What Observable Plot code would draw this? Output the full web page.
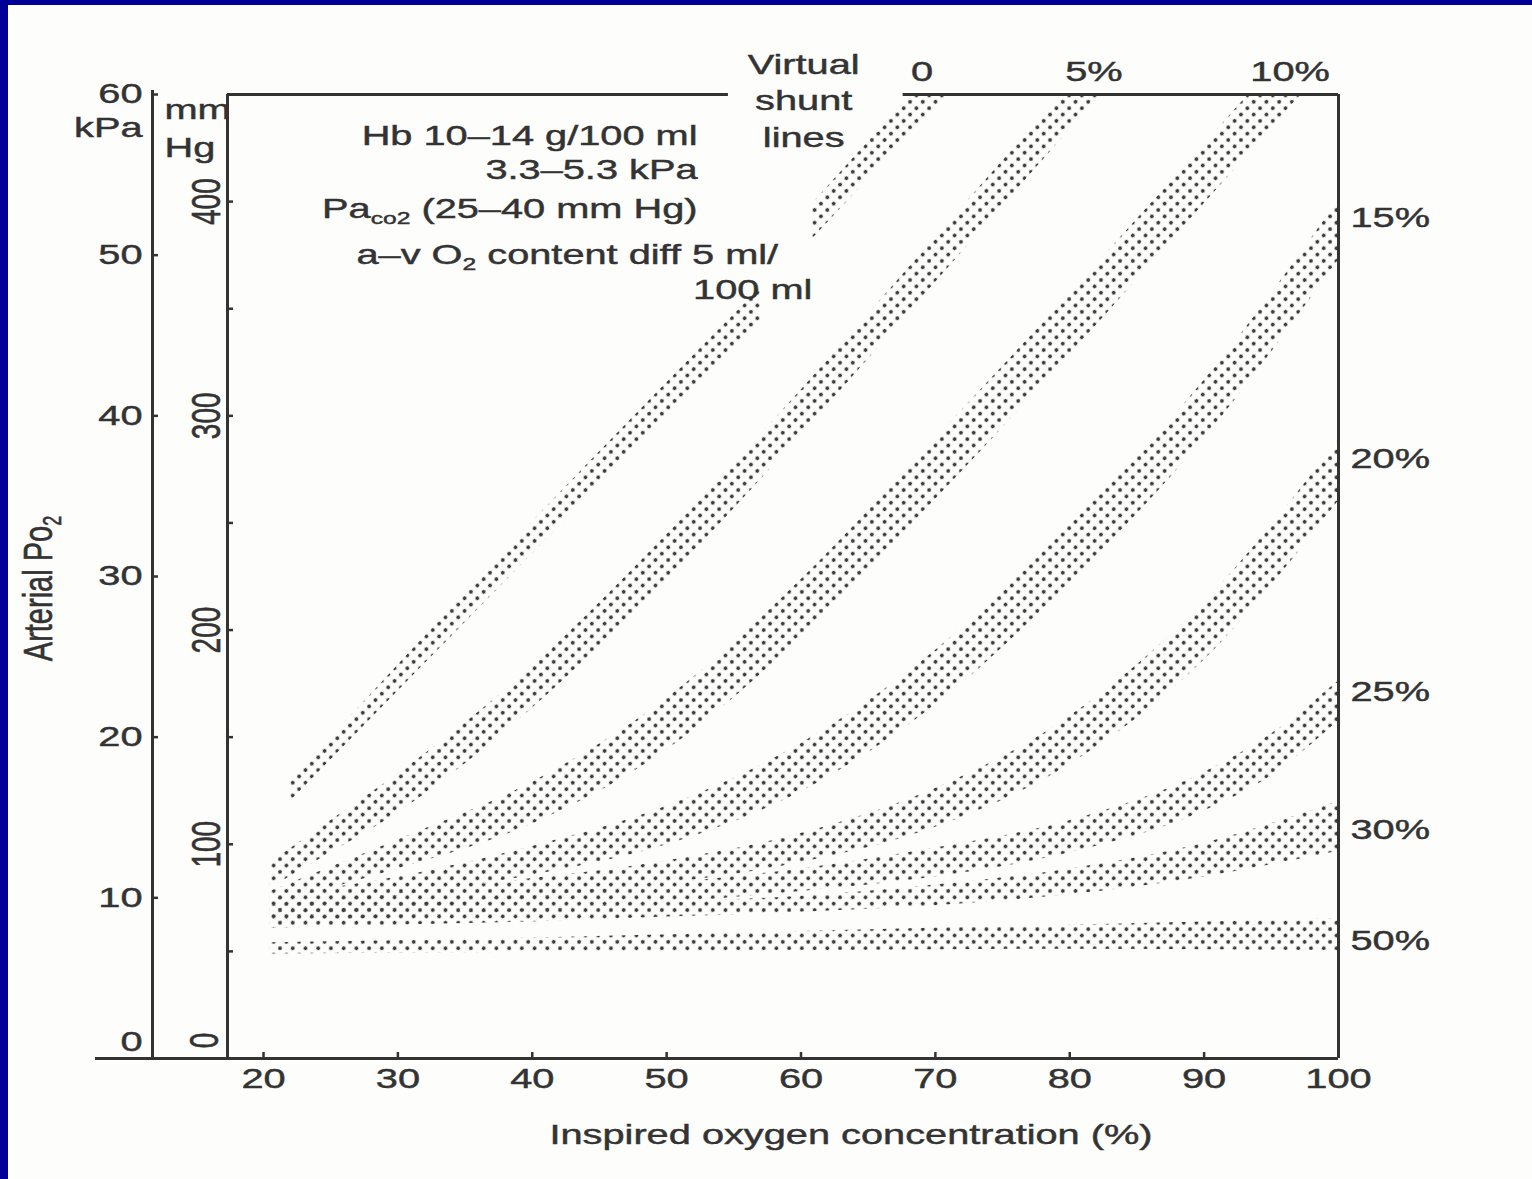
<!DOCTYPE html>
<html><head><meta charset="utf-8">
<script src="https://cdn.jsdelivr.net/npm/d3@7"></script>
<script src="https://cdn.jsdelivr.net/npm/@observablehq/plot@0.6"></script>
<style>
html,body{margin:0;padding:0;background:#fdfdfc;}
#wrap{position:relative;width:1532px;height:1179px;overflow:hidden;background:#fdfdfc;}
#wrap svg{position:absolute;left:0;top:0;}
.bar{position:absolute;background:#000099;z-index:5;}
</style></head><body>
<div id="wrap"><div class="bar" style="left:0;top:0;width:1532px;height:5px"></div><div class="bar" style="left:0;top:0;width:8px;height:1179px"></div></div>
<script>
// ---- scales / ticks ----
const xDomain = [17.32, 100];           // inspired O2 %
const yDomain = [0, 60];                // arterial PO2, kPa
const fio2Ticks = [20, 30, 40, 50, 60, 70, 80, 90, 100];
const kpaTicks = [0, 10, 20, 30, 40, 50, 60];
const mmHgTicks = [50, 100, 150, 200, 250, 300, 350, 400, 450];
const mmHgLabels = [100, 200, 300, 400];
const MMHG_PER_KPA = 7.5;

// ---- virtual shunt bands (FiO2 %, lower / upper PaO2 kPa) ----
const band0a  = {fio2: [22, 40, 57], lo: [16.0, 31.4, 45.8], hi: [17.2, 33.4, 48.0]};
const band0b  = {fio2: [60.85, 70, 75], lo: [51.0, 59.2, 63.6], hi: [53.2, 61.6, 66.0]};
const band5   = {fio2: [20.5, 25, 30, 40, 50, 60, 70, 80, 90], lo: [10.6, 12.8, 15.3, 21.8, 29.8, 38.8, 48.3, 57.8, 67.3], hi: [12.2, 14.8, 17.7, 24.4, 32.6, 41.6, 51.1, 60.6, 70.1]};
const band10  = {fio2: [20.5, 25, 30, 40, 50, 60, 70, 80, 90, 100], lo: [9.6, 10.6, 11.8, 14.6, 19.2, 26.2, 34.8, 43.8, 53.2, 62.6], hi: [10.4, 11.9, 13.6, 17.2, 22.4, 29.8, 38.6, 47.6, 56.9, 66.3]};
const band15  = {fio2: [20.5, 25, 30, 40, 50, 60, 70, 80, 90, 100], lo: [9.2, 9.6, 10.1, 11.4, 13.3, 16.6, 22.0, 29.6, 38.6, 49.7], hi: [9.9, 10.6, 11.3, 13.2, 15.7, 19.6, 25.4, 33.2, 42.2, 53.4]};
const band20  = {fio2: [20.5, 25, 30, 40, 50, 60, 70, 80, 90, 100], lo: [8.8, 9.0, 9.3, 10.0, 10.9, 12.2, 14.4, 18.3, 24.8, 34.7], hi: [9.5, 9.9, 10.3, 11.2, 12.3, 14.0, 16.8, 21.3, 28.4, 38.5]};
const band25  = {fio2: [20.5, 25, 30, 40, 50, 60, 70, 80, 90, 95, 100], lo: [8.5, 8.6, 8.8, 9.2, 9.7, 10.4, 11.3, 12.8, 15.4, 17.6, 21.0], hi: [9.1, 9.3, 9.6, 10.2, 10.9, 11.8, 13.1, 14.8, 17.8, 20.2, 23.5]};
const band30  = {fio2: [20.5, 30, 40, 50, 60, 70, 80, 90, 100], lo: [8.1, 8.3, 8.5, 8.8, 9.1, 9.5, 10.2, 11.3, 12.9], hi: [8.7, 9.0, 9.3, 9.7, 10.1, 10.8, 11.8, 13.4, 16.0]};
const band50  = {fio2: [20.5, 40, 60, 80, 100], lo: [6.5, 6.6, 6.7, 6.8, 6.7], hi: [7.2, 7.5, 7.9, 8.3, 8.7]};

// ---- labels ----
const topLabels = [{text: "0", fio2: 69.0}, {text: "5%", fio2: 81.8}, {text: "10%", fio2: 96.4}];
const rightLabels = [{text: "15%", kpa: 52.3}, {text: "20%", kpa: 37.3}, {text: "25%", kpa: 22.8}, {text: "30%", kpa: 14.2}, {text: "50%", kpa: 7.3}];
const notes = [
  {text: "Hb 10–14 g/100 ml", fio2: 52.3, kpa: 57.4},
  {text: "3.3–5.3 kPa", fio2: 52.3, kpa: 55.3},
  {text: "Pa_{co2} (25–40 mm Hg)", fio2: 52.3, kpa: 52.9},
  {text: "a–v O_{2} content diff 5 ml/", fio2: 58.3, kpa: 50.0},
  {text: "100 ml", fio2: 60.85, kpa: 47.8}
];
const topSegments = [{x1: xDomain[0], x2: 54.6}, {x1: 67.6, x2: xDomain[1]}];
const xTitle = "Inspired oxygen concentration (%)";
const yTitle = "Arterial Po_{2}";

const bands = [["0a", band0a], ["0b", band0b], ["5", band5], ["10", band10], ["15", band15], ["20", band20], ["25", band25], ["30", band30], ["50", band50]];
const bandRows = bands.flatMap(([id, b]) => b.fio2.map((f, i) => ({id, fio2: f, lo: b.lo[i], hi: b.hi[i]})));

const ink = "#333";
const lw = 3;

const svg = Plot.plot({
  width: 1532, height: 1179,
  marginLeft: 227, marginRight: 194, marginTop: 94, marginBottom: 121,
  x: {domain: xDomain, label: null},
  y: {domain: yDomain, label: null},
  style: {fontFamily: "'Liberation Sans', Arial, sans-serif", fontSize: "28px", color: ink, background: "transparent", overflow: "visible"},
  marks: [
    Plot.areaY(bandRows, {x: "fio2", y1: "lo", y2: "hi", z: "id", fill: "url(#stipple)", curve: "monotone-x", clip: true}),
    // frame / axis lines
    Plot.ruleX([xDomain[0]], {stroke: ink, strokeWidth: lw}),
    Plot.ruleX([xDomain[1]], {stroke: ink, strokeWidth: lw}),
    Plot.ruleX([xDomain[0]], {dx: -75, insetTop: -4, stroke: ink, strokeWidth: lw}),
    Plot.ruleY([yDomain[0]], {insetLeft: -132, stroke: ink, strokeWidth: lw}),
    Plot.ruleY(topSegments, {y: () => yDomain[1], x1: "x1", x2: "x2", stroke: ink, strokeWidth: lw}),
    // kPa axis
    Plot.axisY(kpaTicks, {anchor: "left", dx: -75, tickSize: -6, tickPadding: 16, strokeWidth: 2.5, tickFormat: d => d === 0 ? "" : String(d)}),
    Plot.text([0], {y: d => d, text: d => String(d), frameAnchor: "left", dx: -85, dy: -8, textAnchor: "end", lineAnchor: "bottom"}),
    // mmHg axis
    Plot.axisY(mmHgTicks.map(d => d / MMHG_PER_KPA), {anchor: "left", tickSize: -6, strokeWidth: 2.5, tickFormat: () => ""}),
    Plot.text(mmHgLabels, {y: d => d / MMHG_PER_KPA, text: d => String(d), frameAnchor: "left", dx: -20, rotate: -90, textAnchor: "middle", lineAnchor: "middle"}),
    Plot.text([0], {y: d => d, text: d => String(d), frameAnchor: "left", dx: -22, dy: -18, rotate: -90, textAnchor: "middle", lineAnchor: "middle"}),
    // x axis
    Plot.axisX(fio2Ticks, {anchor: "bottom", tickSize: -6, tickPadding: 16, strokeWidth: 2.5, tickFormat: d => String(d)}),
    Plot.text([xTitle], {frameAnchor: "bottom", dx: 68, dy: 77, textAnchor: "middle", lineAnchor: "middle"}),
    Plot.text([yTitle], {frameAnchor: "left", dx: -189, dy: 12, rotate: -90, fontSize: 29, textAnchor: "middle", lineAnchor: "middle"}),
    Plot.text(["kPa"], {frameAnchor: "top-left", dx: -85, dy: 34, textAnchor: "end", lineAnchor: "middle"}),
    Plot.text(["mm\nHg"], {frameAnchor: "top-left", dx: -63, dy: -2, textAnchor: "start", lineAnchor: "top", lineHeight: 1.35}),
    // annotations
    Plot.text(notes, {x: "fio2", y: "kpa", text: "text", textAnchor: "end", lineAnchor: "middle"}),
    Plot.text(["Virtual\nshunt\nlines"], {x: () => 60.2, frameAnchor: "top", dy: 4, textAnchor: "middle", lineAnchor: "middle", lineHeight: 1.3}),
    Plot.text(topLabels, {x: "fio2", text: "text", frameAnchor: "top", dy: -22, textAnchor: "middle", lineAnchor: "middle"}),
    Plot.text(rightLabels, {y: "kpa", text: "text", frameAnchor: "right", dx: 12, textAnchor: "start", lineAnchor: "middle"})
  ]
});

// stipple pattern for the bands
const defs = d3.select(svg).insert("defs", ":first-child");
const pat = defs.append("pattern").attr("id", "stipple").attr("patternUnits", "userSpaceOnUse")
  .attr("width", 9).attr("height", 9).attr("patternTransform", "rotate(45)");
pat.append("circle").attr("cx", 4.5).attr("cy", 4.5).attr("r", 1.9).attr("fill", "#3c3c3c");

// subscripts: "_{...}"
svg.querySelectorAll("text").forEach(t => {
  if (t.querySelector("tspan")) return;
  const s = t.textContent;
  if (!s.includes("_{")) return;
  t.textContent = "";
  const re = /_\{([^}]*)\}/g;
  let last = 0, m, pendingUp = false;
  const add = (str, kind) => {
    const ts = document.createElementNS("http://www.w3.org/2000/svg", "tspan");
    ts.textContent = str;
    if (kind === "sub") { ts.setAttribute("font-size", "0.62em"); ts.setAttribute("dy", "0.36em"); }
    else if (pendingUp) { ts.setAttribute("dy", "-0.22em"); }
    t.appendChild(ts);
  };
  while ((m = re.exec(s))) {
    if (m.index > last) { add(s.slice(last, m.index), "normal"); pendingUp = false; }
    add(m[1], "sub"); pendingUp = true;
    last = re.lastIndex;
  }
  if (last < s.length) add(s.slice(last), "normal");
});

// the scanned lettering is wide and heavy: stretch text horizontally on the page
const SX = 1.42;
svg.querySelectorAll("text").forEach(t => {
  const tr = t.getAttribute("transform") || "";
  const rotated = /rotate\(\s*-?90\s*\)/.test(tr);
  t.setAttribute("transform", (tr + (rotated ? ` scale(1,${SX})` : ` scale(${SX},1)`)).trim());
  t.setAttribute("stroke", ink);
  t.setAttribute("stroke-width", "0.45");
});

document.getElementById("wrap").appendChild(svg);
</script>
</body></html>
